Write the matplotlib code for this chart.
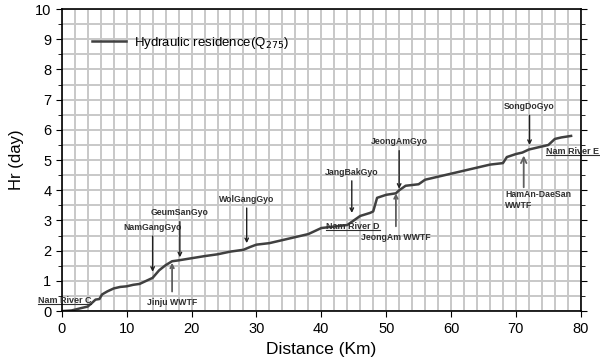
import matplotlib.pyplot as plt
from matplotlib.ticker import MultipleLocator

plt.rcParams['font.family'] = ['Liberation Sans', 'DejaVu Sans']

# hydraulic residence time along the river (Q275)
distance = [0, 1.5, 3, 4, 4.8, 5.2, 5.8, 6.2, 7, 8, 9, 10, 11, 12, 13, 14, 15, 16, 17,
            18, 20, 22, 24, 26, 28, 29, 30, 32, 34, 36, 38, 40, 42, 44, 45, 46, 47.5,
            48, 48.6, 50, 51.5, 52, 53, 55, 56, 58, 60, 62, 64, 66, 68, 68.6, 70, 71,
            72, 74, 75, 76, 77, 78.5]
hr = [0, 0.02, 0.1, 0.15, 0.3, 0.38, 0.4, 0.55, 0.65, 0.75, 0.8, 0.82, 0.87, 0.9, 1.0,
      1.1, 1.35, 1.52, 1.65, 1.68, 1.75, 1.82, 1.88, 1.97, 2.03, 2.12, 2.2, 2.25, 2.35,
      2.45, 2.55, 2.75, 2.8, 2.85, 3.0, 3.15, 3.25, 3.3, 3.75, 3.85, 3.9, 4.0, 4.15,
      4.2, 4.35, 4.45, 4.55, 4.65, 4.75, 4.85, 4.9, 5.1, 5.2, 5.25, 5.35, 5.45, 5.5,
      5.7, 5.75, 5.8]

# (label, arrow x, arrow tip y, text x, text y)
above = [("NamGangGyo", 14.0, 1.3, 14.0, 2.62),
         ("GeumSanGyo", 18.2, 1.78, 18.2, 3.1),
         ("WolGangGyo", 28.5, 2.25, 28.5, 3.55),
         ("JangBakGyo", 44.7, 3.25, 44.7, 4.45),
         ("JeongAmGyo", 52.0, 4.05, 52.0, 5.45),
         ("SongDoGyo", 72.1, 5.5, 72.1, 6.62)]
below = [("Jinju WWTF", 17.0, 1.6, 17.0, 0.12),
         ("JeongAm WWTF", 51.5, 3.9, 51.5, 2.28)]
stations = [("Nam River C", -3.7, 0.2),
            ("Nam River D", 40.8, 2.66),
            ("Nam River E", 74.6, 5.15)]

fig, ax = plt.subplots(figsize=(6, 3.63), dpi=100)
fig.subplots_adjust(left=0.103, right=0.968, bottom=0.143, top=0.975)

ax.plot(distance, hr, color='#404040', lw=1.8, label='Hydraulic residence(Q$_{275}$)')

ax.set_xlim(0, 80)
ax.set_ylim(0, 10)
ax.xaxis.set_major_locator(MultipleLocator(10))
ax.xaxis.set_minor_locator(MultipleLocator(2))
ax.yaxis.set_major_locator(MultipleLocator(1))
ax.yaxis.set_minor_locator(MultipleLocator(0.5))
ax.grid(which='both', color='#c8c8c8', lw=1.4)
ax.set_axisbelow(True)
ax.tick_params(which='major', labelsize=10.5, length=4, right=True)
ax.tick_params(which='minor', length=3, right=True)
ax.tick_params(axis='x', which='minor', length=0)
for s in ax.spines.values():
    s.set_linewidth(1.2)

ax.set_xlabel('Distance (Km)', fontsize=12.5, labelpad=5)
ax.set_ylabel('Hr (day)', fontsize=12, labelpad=8)

ax.legend(loc='upper left', bbox_to_anchor=(0.035, 0.955), frameon=False,
          fontsize=9.5, handlelength=2.6, handletextpad=0.6)

arrow = dict(arrowstyle='->', color='#202020', lw=1.0, shrinkA=1, shrinkB=0)
for name, x, y, tx, ty in above:
    ax.annotate(name, xy=(x, y), xytext=(tx, ty), fontsize=6.3, ha='center', va='bottom',
                fontweight='bold', color='#303030', arrowprops=arrow)
for name, x, y, tx, ty in below:
    ax.annotate(name, xy=(x, y), xytext=(tx, ty), fontsize=6.3, ha='center', va='bottom',
                fontweight='bold', color='#303030',
                arrowprops=dict(arrowstyle='->', color='#606060', lw=1.3, shrinkA=3, shrinkB=0))
ax.text(68.3, 3.87, 'HamAn-DaeSan', fontsize=6.3, fontweight='bold', color='#303030', va='center')
ax.text(68.3, 3.48, 'WWTF', fontsize=6.3, fontweight='bold', color='#303030', va='center')
ax.annotate('', xy=(71.2, 5.15), xytext=(71.2, 4.1),
            arrowprops=dict(arrowstyle='->', color='#606060', lw=1.3, shrinkA=0, shrinkB=0))

for name, x, y in stations:
    t = ax.text(x, y, name, fontsize=6.5, fontweight='bold', color='#303030',
                ha='left', va='bottom', clip_on=False)
    fig.canvas.draw()
    bb = t.get_window_extent().transformed(ax.transData.inverted())
    ax.plot([bb.x0, bb.x1], [bb.y0 + 0.02, bb.y0 + 0.02], color='#303030', lw=0.8,
            clip_on=False)

fig.savefig('out.png', dpi=100)
